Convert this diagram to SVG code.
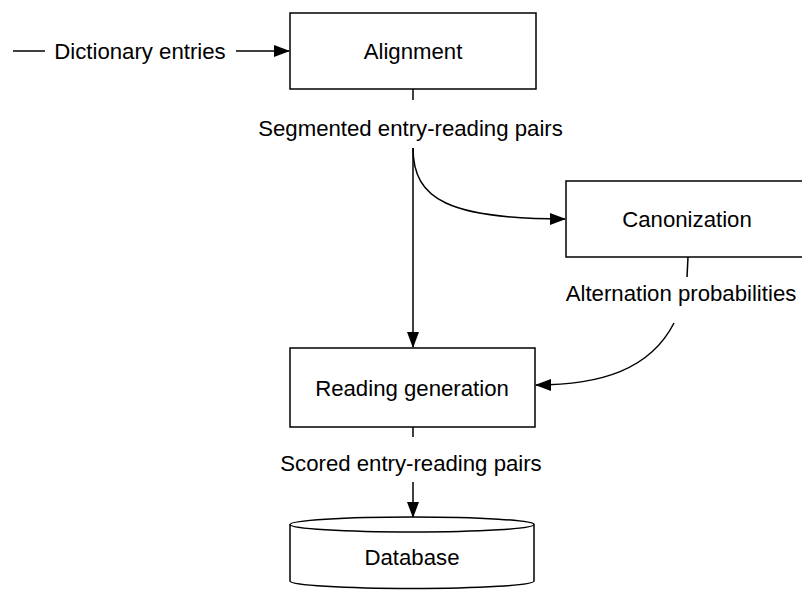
<svg xmlns="http://www.w3.org/2000/svg" width="802" height="590" viewBox="0 0 802 590">
  <style>
    .box { fill: #ffffff; stroke: #000000; stroke-width: 1.5; }
    .edge { fill: none; stroke: #000000; stroke-width: 1.5; }
    .lbl { font-family: "Liberation Sans", Arial, Helvetica, sans-serif; font-size: 22.2px; fill: #000000; text-anchor: middle; }
  </style>
  <defs>
    <marker id="arrow" viewBox="0 0 16 12" refX="15" refY="6" markerWidth="16" markerHeight="12" markerUnits="userSpaceOnUse" orient="auto">
      <path d="M0,0 L16,6 L0,12 Z" fill="#000000"/>
    </marker>
  </defs>
  <rect width="802" height="590" fill="#ffffff"/>

  <g id="connectors">
    <!-- input into Alignment -->
    <line class="edge" x1="13" y1="51" x2="45" y2="51"/>
    <text class="lbl" x="140" y="59">Dictionary entries</text>
    <line class="edge" x1="236" y1="51" x2="289" y2="51" marker-end="url(#arrow)"/>

    <!-- Alignment -> Reading generation / Canonization -->
    <line class="edge" x1="413" y1="89" x2="413" y2="100"/>
    <text class="lbl" x="410.5" y="136">Segmented entry-reading pairs</text>
    <line class="edge" x1="413" y1="148" x2="413" y2="347" marker-end="url(#arrow)"/>
    <path class="edge" d="M413,148 C413,200 450,219 565,219" marker-end="url(#arrow)"/>

    <!-- Canonization -> Reading generation -->
    <path class="edge" d="M688,257 L687,277"/>
    <text class="lbl" x="681" y="301">Alternation probabilities</text>
    <path class="edge" d="M674,323 C650,370 600,385 536,385" marker-end="url(#arrow)"/>

    <!-- Reading generation -> Database -->
    <line class="edge" x1="413" y1="427" x2="413" y2="437"/>
    <text class="lbl" x="411" y="471">Scored entry-reading pairs</text>
    <line class="edge" x1="413" y1="482" x2="413" y2="517" marker-end="url(#arrow)"/>
  </g>

  <g id="alignment">
    <rect class="box" x="290" y="13" width="246" height="76"/>
    <text class="lbl" x="413" y="59">Alignment</text>
  </g>

  <g id="canonization">
    <rect class="box" x="566" y="181" width="240" height="76"/>
    <text class="lbl" x="687" y="227">Canonization</text>
  </g>

  <g id="reading-generation">
    <rect class="box" x="290" y="348" width="245" height="79"/>
    <text class="lbl" x="412" y="396">Reading generation</text>
  </g>

  <g id="database">
    <path class="box" d="M290,524.5 L290,581 A122,7.5 0 0 0 534,581 L534,524.5 A122,7.5 0 0 0 290,524.5 Z"/>
    <path class="edge" d="M290,524.5 A122,7.5 0 0 0 534,524.5"/>
    <text class="lbl" x="412" y="565">Database</text>
  </g>
</svg>
